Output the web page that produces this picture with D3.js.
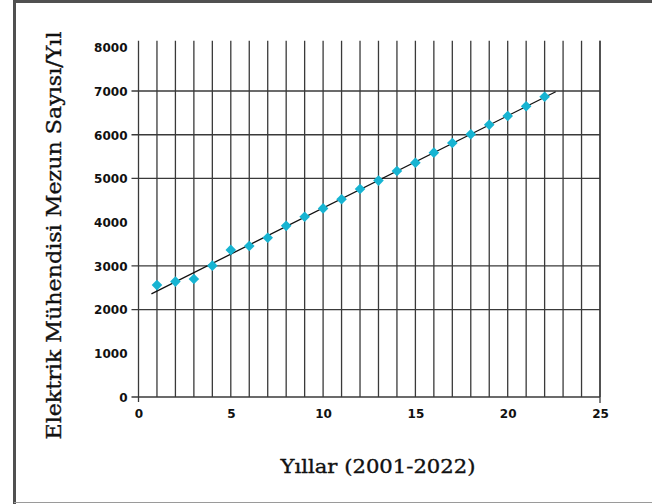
<!DOCTYPE html>
<html>
<head>
<meta charset="utf-8">
<script src="https://cdn.jsdelivr.net/npm/d3@7"></script>
<style>
  html, body { margin: 0; padding: 0; background: #fff; }
  svg { display: block; }
</style>
</head>
<body>
<svg id="chart" width="652" height="504"></svg>
<script>
// ---- data ----
const years = [1, 2, 3, 4, 5, 6, 7, 8, 9, 10, 11, 12, 13, 14, 15, 16, 17, 18, 19, 20, 21, 22];
const graduates = [2560, 2640, 2700, 3005, 3365, 3455, 3645, 3915, 4125, 4315, 4525,
                   4760, 4950, 5170, 5360, 5590, 5810, 6010, 6230, 6430, 6650, 6870];
const xTicks = [0, 5, 10, 15, 20, 25];
const yTicks = [0, 1000, 2000, 3000, 4000, 5000, 6000, 7000, 8000];
const yGridValues = [2000, 3000, 5000, 6000, 7000];
const xGridValues = d3.range(1, 26);
const trendRange = [0.7, 22.6];
const xTitle = "Yıllar (2001-2022)";
const yTitle = "Elektrik Mühendisi Mezun Sayısı/Yıl";

// ---- layout ----
const svg = d3.select("#chart");
const x = d3.scaleLinear().domain([0, 25]).range([138.5, 600]);
const y = d3.scaleLinear().domain([0, 8000]).range([397, 47.3]);
const gridTop = y(8150);
const lineColor = "#3a3a3a";

// frame
svg.append("line").attr("x1", 13).attr("x2", 652).attr("y1", 1.5).attr("y2", 1.5)
  .attr("stroke", "#505050").attr("stroke-width", 3);
svg.append("line").attr("x1", 14.5).attr("x2", 14.5).attr("y1", 0).attr("y2", 504)
  .attr("stroke", "#505050").attr("stroke-width", 3);
svg.append("line").attr("x1", 14).attr("x2", 652).attr("y1", 502.5).attr("y2", 502.5)
  .attr("stroke", "#9a9a9a").attr("stroke-width", 1);

// vertical grid lines
svg.append("g").selectAll("line").data(xGridValues).join("line")
  .attr("x1", d => x(d)).attr("x2", d => x(d))
  .attr("y1", gridTop).attr("y2", y(0))
  .attr("stroke", lineColor).attr("stroke-width", 1.3);

// horizontal grid lines (extend left as tick)
svg.append("g").selectAll("line").data(yGridValues.concat([0])).join("line")
  .attr("x1", x(0) - 7).attr("x2", x(25))
  .attr("y1", d => y(d)).attr("y2", d => y(d))
  .attr("stroke", lineColor).attr("stroke-width", 1.3);

// y axis line
svg.append("line").attr("x1", x(0)).attr("x2", x(0)).attr("y1", gridTop).attr("y2", y(0) + 5)
  .attr("stroke", lineColor).attr("stroke-width", 1.3);
// end tick at 25
svg.append("line").attr("x1", x(25)).attr("x2", x(25)).attr("y1", gridTop).attr("y2", y(0) + 6)
  .attr("stroke", lineColor).attr("stroke-width", 1.3);

// y tick labels via axis
const yAxis = svg.append("g").attr("transform", `translate(${x(0) - 11},0)`)
  .call(d3.axisLeft(y).tickValues(yTicks).tickSize(0).tickPadding(0).tickFormat(d3.format("d")));
yAxis.select(".domain").remove();
yAxis.selectAll("text")
  .attr("font-family", "'DejaVu Sans', sans-serif").attr("font-weight", "bold")
  .attr("font-size", 12).attr("fill", "#111").attr("dy", "0.36em");

// x tick labels via axis
const xAxis = svg.append("g").attr("transform", `translate(0,${y(0) + 12})`)
  .call(d3.axisBottom(x).tickValues(xTicks).tickSize(0).tickPadding(0).tickFormat(d3.format("d")));
xAxis.select(".domain").remove();
xAxis.selectAll("text")
  .attr("font-family", "'DejaVu Sans', sans-serif").attr("font-weight", "bold")
  .attr("font-size", 12).attr("fill", "#111").attr("dy", "0.71em");

// trend line (least squares)
const mx = d3.mean(years), my = d3.mean(graduates);
const slope = d3.sum(years.map((v, i) => (v - mx) * (graduates[i] - my))) /
              d3.sum(years.map(v => (v - mx) * (v - mx)));
const intercept = my - slope * mx;
svg.append("line")
  .attr("x1", x(trendRange[0])).attr("y1", y(intercept + slope * trendRange[0]))
  .attr("x2", x(trendRange[1])).attr("y2", y(intercept + slope * trendRange[1]))
  .attr("stroke", "#111").attr("stroke-width", 1.3);

// diamonds
svg.append("g").selectAll("path").data(years).join("path")
  .attr("d", d3.symbol().type(d3.symbolSquare).size(56))
  .attr("transform", (d, i) => `translate(${x(d)},${y(graduates[i])}) rotate(45)`)
  .attr("fill", "#17b4d2");

// titles
svg.append("text").text(xTitle)
  .attr("x", 378).attr("y", 473)
  .attr("text-anchor", "middle")
  .attr("font-family", "'DejaVu Serif', serif").attr("font-size", 18)
  .attr("textLength", 195).attr("lengthAdjust", "spacingAndGlyphs")
  .attr("fill", "#111").attr("stroke", "#111").attr("stroke-width", 0.35);

svg.append("text").text(yTitle)
  .attr("transform", "translate(61,235.5) rotate(-90)")
  .attr("text-anchor", "middle")
  .attr("font-family", "'DejaVu Serif', serif").attr("font-size", 20)
  .attr("textLength", 408).attr("lengthAdjust", "spacingAndGlyphs")
  .attr("fill", "#111").attr("stroke", "#111").attr("stroke-width", 0.35);
</script>
</body>
</html>
